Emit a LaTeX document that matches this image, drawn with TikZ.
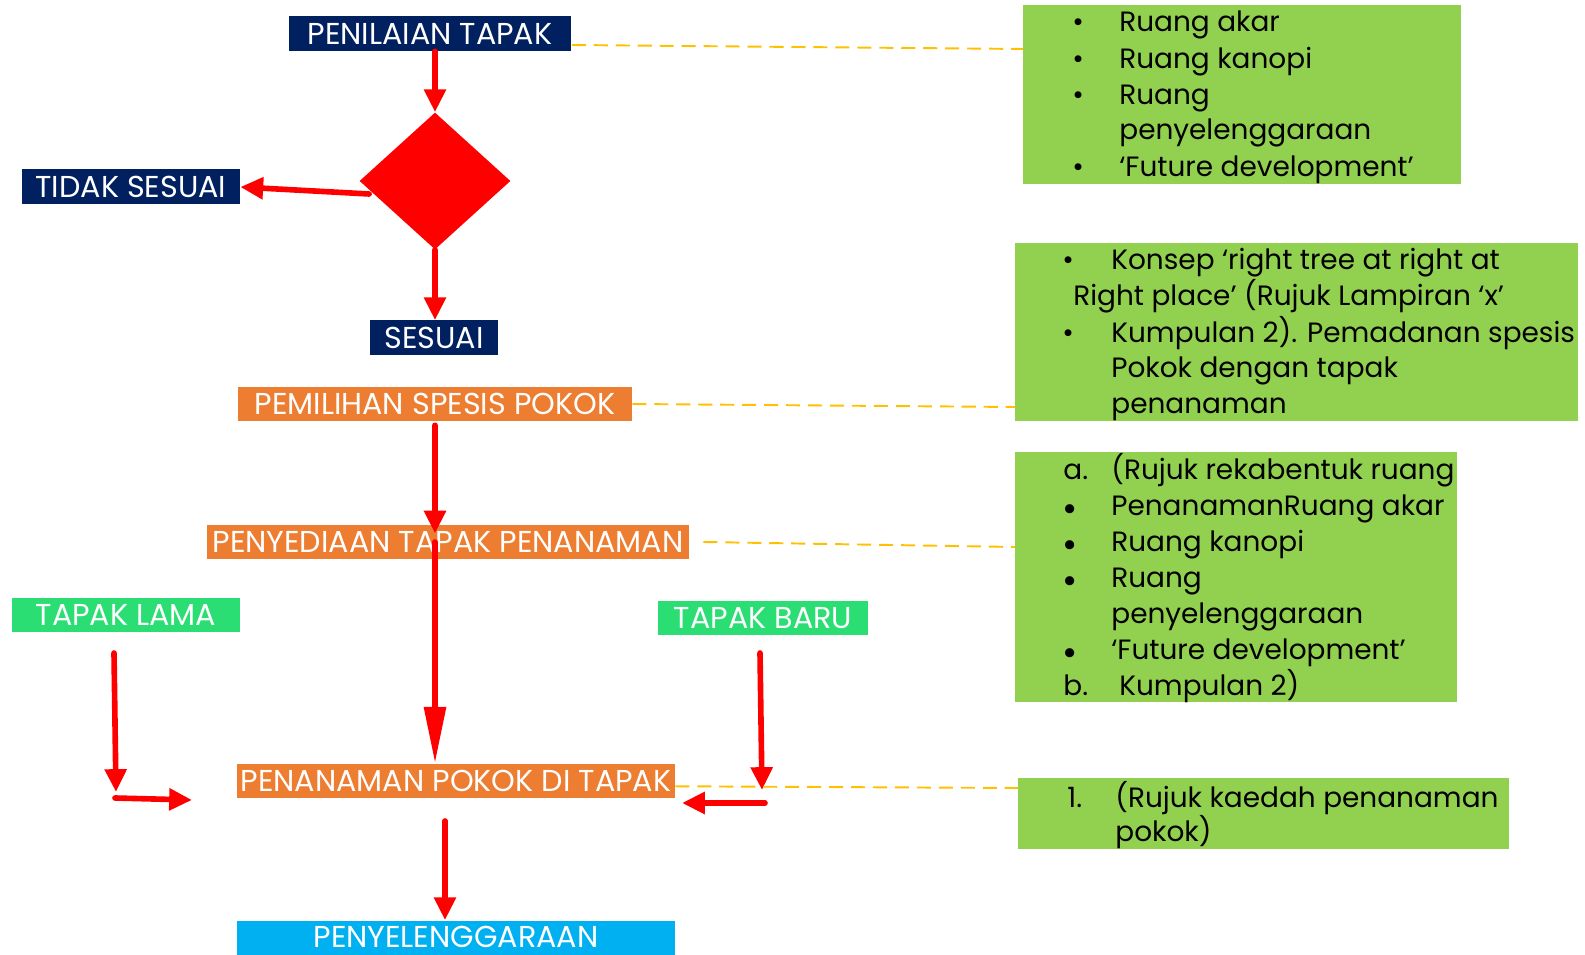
\documentclass[tikz,border=0pt]{standalone}
\usepackage{fontspec}
\setmainfont{Poppins}
\usetikzlibrary{arrows.meta,shapes.geometric}
\definecolor{Navy}{HTML}{002060}
\definecolor{Orng}{HTML}{ED7D31}
\definecolor{Lime}{HTML}{92D050}
\definecolor{Mint}{HTML}{2BDE73}
\definecolor{Sky}{HTML}{00B0F0}
\definecolor{Gold}{HTML}{FFC000}
\tikzset{
  hdr/.style={inner sep=0pt, text=white, minimum height=0.7cm,
    font=\fontsize{17.2}{19}\selectfont},
  navybox/.style={hdr, fill=Navy},
  orngbox/.style={hdr, fill=Orng},
  mintbox/.style={hdr, fill=Mint},
  skybox/.style={hdr, fill=Sky},
  flow/.style={draw=red, line width=3.2pt, line cap=round,
    -{Triangle[width=12pt,length=13pt]}},
  link/.style={draw=Gold, line width=1.1pt, dash pattern=on 8pt off 4.5pt},
  note/.style={fill=Lime, inner sep=0pt, anchor=north west},
  txt/.style={anchor=west, inner sep=0pt, text height=13pt, text depth=3pt,
    font=\fontsize{15.9}{19}\selectfont},
  bigdot/.style={txt, font=\fontsize{21}{21}\selectfont},
}
\begin{document}
\begin{tikzpicture}[x=0.02cm, y=-0.02cm]
\useasboundingbox (0,0) rectangle (1585,955);
% main flow
\node[navybox, minimum width=5.66cm] (nilai) at (430,33.5) {PENILAIAN TAPAK};
\node[diamond, fill=red, inner sep=0pt, minimum width=3.02cm, minimum height=2.74cm, aspect=1.1] (semak) at (435,181) {};
\node[navybox, minimum width=4.36cm] (tidak) at (131,187) {TIDAK SESUAI};
\node[navybox, minimum width=2.58cm] (sesuai) at (434,338) {SESUAI};
\node[orngbox, minimum width=7.88cm] (pilih) at (435,404) {PEMILIHAN SPESIS POKOK};
\node[orngbox, minimum width=9.64cm] (sedia) at (448,542) {PENYEDIAAN TAPAK PENANAMAN};
\node[orngbox, minimum width=8.76cm] (tanam) at (456,781) {PENANAMAN POKOK DI TAPAK};
\node[mintbox, minimum width=4.56cm] (lama) at (126,615) {TAPAK LAMA};
\node[mintbox, minimum width=4.22cm] (baru) at (763,618) {TAPAK BARU};
\node[skybox, minimum width=8.76cm, text depth=1pt] (rawat) at (456,938) {PENYELENGGARAAN};

\draw[flow] (nilai.south -| semak) -- (semak.north);
\draw[flow] ([shift={(10,13)}]semak.west) -- (tidak.east);
\draw[flow] (semak.south) -- (sesuai.north -| semak);
\draw[flow] ([yshift=-2pt]pilih.south -| semak) -- ([yshift=15pt]sedia.south -| semak);
\draw[flow, -{Triangle[width=12pt,length=32pt]}] (sedia.center -| semak) -- (tanam.north -| semak);

% tapak lama / baru
\coordinate (lamaA) at (114,653);
\coordinate (lamaB) at (116,792);
\coordinate (lamaC) at (115,798);
\coordinate (lamaD) at (192,800);
\draw[flow] (lamaA) -- (lamaB);
\draw[flow] (lamaC) -- (lamaD);
\coordinate (baruA) at (760,653);
\coordinate (baruB) at (762,790);
\coordinate (baruC) at (765,803);
\coordinate (baruD) at (682,803);
\draw[flow] (baruA) -- (baruB);
\draw[flow] (baruC) -- (baruD);
\coordinate (tanamOut) at (445,821);
\draw[flow] (tanamOut) -- (tanamOut |- rawat.north);

% notes
\node[note, minimum width=8.76cm, minimum height=3.58cm] (k1) at (1023,5) {};
\node[note, minimum width=11.26cm, minimum height=3.56cm] (k2) at (1015,243) {};
\node[note, minimum width=8.84cm, minimum height=5.00cm] (k3) at (1015,452) {};
\node[note, minimum width=9.82cm, minimum height=1.42cm] (k4) at (1018,778) {};

\draw[link] (nilai.east |- 0,45) -- (k1.west |- 0,49);
\draw[link] (pilih.east) -- (k2.west |- 0,407);
\draw[link] ([xshift=8pt]sedia.east) -- (k3.west |- 0,547);
\draw[link] ([yshift=-3pt]tanam.east) -- (k4.west |- 0,788);

\node[txt] (k1b1) at (1072,23) {•};
\node[txt] (k1t1) at (1119,23) {Ruang akar};
\node[txt] (k1b2) at (1072,60) {•};
\node[txt] (k1t2) at (1119,60) {Ruang kanopi};
\node[txt] (k1b3) at (1072,96) {•};
\node[txt] (k1t3) at (1119,96) {Ruang};
\node[txt] (k1t4) at (1119,131) {penyelenggaraan};
\node[txt] (k1b5) at (1072,168) {•};
\node[txt] (k1t5) at (1119,168) {‘Future development’};

\node[txt] (k2b1) at (1062,261) {•};
\node[txt] (k2t1) at (1111,261) {Konsep ‘right tree at right at};
\node[txt] (k2t2) at (1073,297) {Right place’ (Rujuk Lampiran ‘x’};
\node[txt] (k2b3) at (1062,334) {•};
\node[txt] (k2t3) at (1111,334) {Kumpulan 2). Pemadanan spesis};
\node[txt] (k2t4) at (1111,369) {Pokok dengan tapak};
\node[txt] (k2t5) at (1111,405) {penanaman};

\node[txt] (k3a) at (1063,471) {a.};
\node[txt] (k3t1) at (1111,471) {(Rujuk rekabentuk ruang};
\node[bigdot] (k3b2) at (1062,507) {\raisebox{-3pt}{•}};
\node[txt] (k3t2) at (1111,507) {PenanamanRuang akar};
\node[bigdot] (k3b3) at (1062,543) {\raisebox{-3pt}{•}};
\node[txt] (k3t3) at (1111,543) {Ruang kanopi};
\node[bigdot] (k3b4) at (1062,579) {\raisebox{-3pt}{•}};
\node[txt] (k3t4) at (1111,579) {Ruang};
\node[txt] (k3t5) at (1111,615) {penyelenggaraan};
\node[bigdot] (k3b6) at (1062,651) {\raisebox{-3pt}{•}};
\node[txt] (k3t6) at (1111,651) {‘Future development’};
\node[txt] (k3b) at (1063,687) {b.};
\node[txt] (k3t7) at (1119,687) {Kumpulan 2)};

\node[txt] (k4n) at (1067,799) {1.};
\node[txt] (k4t1) at (1115,799) {(Rujuk kaedah penanaman};
\node[txt] (k4t2) at (1115,833) {pokok)};
\end{tikzpicture}
\end{document}
